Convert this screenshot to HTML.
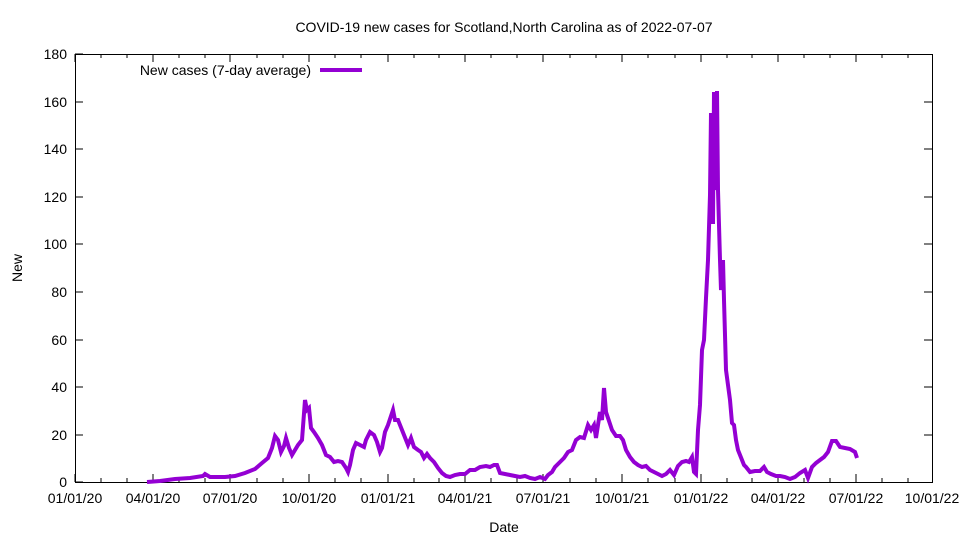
<!DOCTYPE html>
<html><head><meta charset="utf-8"><style>body{margin:0;background:#fff}svg{display:block}text{font-family:"Liberation Sans",sans-serif;font-size:14px;fill:#000}</style></head><body>
<svg width="960" height="540" viewBox="0 0 960 540">
<rect x="75.5" y="54.5" width="857" height="428" fill="none" stroke="#000"/>
<g stroke="#000">
<path d="M75 482h8M75 435h8M75 387h8M75 340h8M75 292h8M75 244h8M75 197h8M75 149h8M75 102h8M75 54h8M932 435h-8M932 387h-8M932 340h-8M932 292h-8M932 244h-8M932 197h-8M932 149h-8M932 102h-8"/>
<path d="M75 482v-8M153 482v-8M230 482v-8M309 482v-8M388 482v-8M465 482v-8M543 482v-8M622 482v-8M701 482v-8M778 482v-8M856 482v-8M75 54v8M153 54v8M230 54v8M309 54v8M388 54v8M465 54v8M543 54v8M622 54v8M701 54v8M778 54v8M856 54v8"/>
<path d="M101 482v-4M127 482v-4M179 482v-4M205 482v-4M257 482v-4M283 482v-4M335 482v-4M361 482v-4M414 482v-4M439 482v-4M491 482v-4M517 482v-4M570 482v-4M596 482v-4M648 482v-4M675 482v-4M727 482v-4M752 482v-4M804 482v-4M830 482v-4M882 482v-4M908 482v-4M101 54v4M127 54v4M179 54v4M205 54v4M257 54v4M283 54v4M335 54v4M361 54v4M414 54v4M439 54v4M491 54v4M517 54v4M570 54v4M596 54v4M648 54v4M675 54v4M727 54v4M752 54v4M804 54v4M830 54v4M882 54v4M908 54v4"/>
</g>
<g text-anchor="end">
<text x="67" y="487">0</text><text x="67" y="440">20</text><text x="67" y="392">40</text><text x="67" y="345">60</text><text x="67" y="297">80</text><text x="67" y="249">100</text><text x="67" y="202">120</text><text x="67" y="154">140</text><text x="67" y="107">160</text><text x="67" y="59">180</text>
</g>
<g text-anchor="middle">
<text x="75" y="503">01/01/20</text><text x="153" y="503">04/01/20</text><text x="230" y="503">07/01/20</text><text x="309" y="503">10/01/20</text><text x="388" y="503">01/01/21</text><text x="465" y="503">04/01/21</text><text x="543" y="503">07/01/21</text><text x="622" y="503">10/01/21</text><text x="701" y="503">01/01/22</text><text x="778" y="503">04/01/22</text><text x="856" y="503">07/01/22</text><text x="932" y="503">10/01/22</text>
<text x="504" y="532">Date</text>
<text x="504" y="32">COVID-19 new cases for Scotland,North Carolina as of 2022-07-07</text>
<text x="22" y="268" transform="rotate(-90 22 268)">New</text>
</g>
<text x="311" y="75" text-anchor="end">New cases (7-day average)</text>
<path d="M320 70h42" stroke="#9400d3" stroke-width="4"/>
<polyline fill="none" stroke="#9400d3" stroke-width="4" stroke-linejoin="miter" points="147,482 160,481 175,479 190,478 203,476 205,474 210,477 225,477 235,476 245,473 255,469 262,463 268,458 272,448 275,436 278,440 281,452 284,446 286,438 289,448 292,455 295,450 298,445 302,440 305,400 307,410 309,408 311,428 314,432 318,438 322,445 326,455 330,457 334,462 338,461 342,462 346,468 348,472 350,465 353,450 356,443 360,445 364,447 366,440 370,432 374,435 377,442 380,452 382,448 385,432 388,425 391,416 393,410 395,420 398,420 400,425 404,435 408,445 411,438 414,447 418,450 421,452 424,458 427,454 430,458 434,462 438,468 442,473 446,476 450,477 455,475 460,474 465,474 470,470 475,470 480,467 486,466 490,467 494,465 497,465 500,473 505,474 510,475 515,476 520,477 525,476 530,478 535,479 540,477 545,479 548,475 552,472 555,467 560,462 564,458 568,452 572,450 576,440 580,437 584,438 588,425 591,430 594,425 596,438 598,425 600,412 602,420 604,388 606,412 608,418 612,430 616,436 620,436 623,440 626,450 630,457 634,462 638,465 642,467 646,466 650,470 654,472 658,474 662,476 666,474 670,470 674,475 678,466 682,462 686,461 689,462 692,457 694,472 696,474 698,430 700,405 702,350 704,340 706,298 708,260 710,195 711,113 712,145 713,224 714,92 715,190 716,175 717,91 718,190 720,260 721,290 723,260 724,300 726,370 728,385 730,400 732,423 734,425 736,440 738,450 740,455 742,460 744,465 746,467 750,472 755,471 760,471 764,467 767,472 771,474 776,476 780,476 785,477 790,479 795,477 800,473 805,470 808,478 812,467 816,463 820,460 824,457 828,452 832,441 836,441 840,447 845,448 850,449 855,452 857,458"/>
</svg>
</body></html>
